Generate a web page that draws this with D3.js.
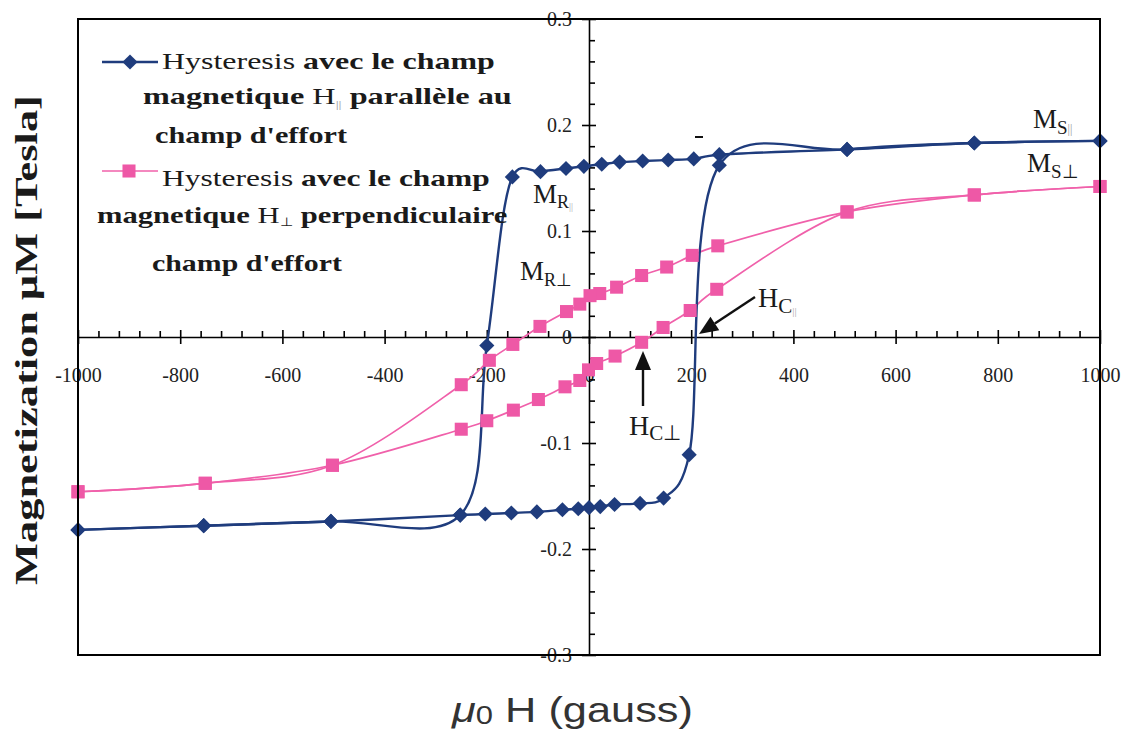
<!DOCTYPE html>
<html lang="fr">
<head>
<meta charset="utf-8"/>
<script src="https://cdn.jsdelivr.net/npm/d3@7"></script>
<title>Hysteresis</title>
<style>
  body { margin: 0; background: #fff; }
  svg { display: block; }
  text { white-space: pre; }
  .tick text { font-family: "Liberation Serif", "Times New Roman", serif; font-size: 20px; fill: #222; }
  .tick line, .domain { stroke: #000; stroke-width: 1.6px; }
</style>
</head>
<body>
<svg id="chart"></svg>
<script>
const width = 1123;
const height = 733;

// axes
const xTicks = [-1000, -800, -600, -400, -200, 0, 200, 400, 600, 800, 1000];
const yTicks = [-0.3, -0.2, -0.1, 0, 0.1, 0.2, 0.3];
const yTickLabels = ["-0.3", "-0.2", "-0.1", "0", "0.1", "0.2", "0.3"];

// H parallele : branche descendante puis montante
const blueDownH = [1000, 754, 505, 255, 205, 155, 105, 60, 25, -10, -45, -95, -150, -200, -252, -505, -754, -1000];
const blueDownM = [0.185, 0.183, 0.177, 0.172, 0.168, 0.167, 0.166, 0.165, 0.163, 0.161, 0.159, 0.156, 0.151, -0.008, -0.168, -0.174, -0.178, -0.182];
const blueUpH = [-1000, -754, -505, -252, -203, -152, -102, -52, -21, 0, 22, 50, 100, 146, 196, 255, 505, 754, 1000];
const blueUpM = [-0.182, -0.178, -0.174, -0.168, -0.167, -0.166, -0.165, -0.163, -0.162, -0.161, -0.160, -0.158, -0.157, -0.152, -0.111, 0.162, 0.177, 0.183, 0.185];

// H perpendiculaire
const pinkDownH = [1000, 754, 505, 252, 202, 152, 103, 54, 21, 2, -18, -44, -96, -149, -195, -250, -502, -751, -1000];
const pinkDownM = [0.142, 0.134, 0.118, 0.086, 0.077, 0.066, 0.058, 0.047, 0.041, 0.039, 0.031, 0.024, 0.010, -0.007, -0.022, -0.045, -0.121, -0.138, -0.146];
const pinkUpH = [-1000, -751, -502, -250, -200, -148, -99, -47, -18, -1, 15, 51, 103, 145, 198, 250, 505, 754, 1000];
const pinkUpM = [-0.146, -0.138, -0.121, -0.087, -0.079, -0.069, -0.059, -0.047, -0.041, -0.031, -0.025, -0.018, -0.005, 0.009, 0.025, 0.045, 0.118, 0.134, 0.142];

const blue = "#1f3c7d";
const pink = "#f060aa";
const serif = "'Liberation Serif', 'Times New Roman', serif";

const svg = d3.select("#chart")
  .attr("width", width)
  .attr("height", height);

const x = d3.scaleLinear().domain([-1000, 1000]).range([78, 1100]);
const y = d3.scaleLinear().domain([-0.3, 0.3]).range([655, 19]);

// axe horizontal (y = 0)
const xAxis = svg.append("g")
  .attr("transform", "translate(0," + y(0) + ")")
  .call(d3.axisBottom(x).tickValues(xTicks).tickSize(7).tickSizeOuter(0).tickFormat(d => String(d)));
xAxis.selectAll(".tick line").attr("y1", -7).attr("y2", 7);
xAxis.selectAll(".tick text").attr("y", 45).attr("dy", null);

const minorX = d3.range(-25, 26).map(i => i * 40).filter(v => v % 200 !== 0);
svg.append("g")
  .attr("transform", "translate(0," + y(0) + ")")
  .call(d3.axisTop(x).tickValues(minorX).tickSize(6).tickFormat(""))
  .select(".domain").remove();

// axe vertical (H = 0)
const yAxis = svg.append("g")
  .attr("transform", "translate(" + x(0) + ",0)")
  .call(d3.axisLeft(y).tickValues(yTicks).tickSize(7).tickSizeOuter(0).tickFormat((d, i) => yTickLabels[i]));
yAxis.selectAll(".tick line").attr("x1", 7);
yAxis.selectAll(".tick text").attr("x", -17);

const minorY = d3.range(-15, 16).filter(i => i % 5 !== 0).map(i => i * 0.02);
svg.append("g")
  .attr("transform", "translate(" + x(0) + ",0)")
  .call(d3.axisRight(y).tickValues(minorY).tickSize(6).tickFormat(""))
  .select(".domain").remove();

// courbes lissées
const line = d3.line()
  .x(d => x(d[0]))
  .y(d => y(d[1]))
  .curve(d3.curveCatmullRom.alpha(0.2));

const zipHM = (h, m) => h.map((v, i) => [v, m[i]]);

const series = [
  {pts: zipHM(pinkDownH, pinkDownM), color: pink, w: 1.7, kind: "square"},
  {pts: zipHM(pinkUpH, pinkUpM), color: pink, w: 1.7, kind: "square"},
  {pts: zipHM(blueDownH, blueDownM), color: blue, w: 2.4, kind: "diamond"},
  {pts: zipHM(blueUpH, blueUpM), color: blue, w: 2.4, kind: "diamond"}
];

const squareSym = d3.symbol(d3.symbolSquare, 170);
const diamondSym = d3.symbol(d3.symbolSquare, 115);

series.forEach(s => {
  svg.append("path")
    .attr("d", line(s.pts))
    .attr("fill", "none")
    .attr("stroke", s.color)
    .attr("stroke-width", s.w);
});

series.forEach(s => {
  svg.append("g")
    .selectAll("path")
    .data(s.pts)
    .enter()
    .append("path")
      .attr("d", s.kind === "square" ? squareSym : diamondSym)
      .attr("transform", d => "translate(" + x(d[0]) + "," + y(d[1]) + ")" + (s.kind === "diamond" ? " rotate(45)" : ""))
      .attr("fill", s.color === pink ? "#ee58a6" : blue);
});

// cadre
svg.append("rect")
  .attr("x", x(-1000)).attr("y", y(0.3))
  .attr("width", x(1000) - x(-1000)).attr("height", y(-0.3) - y(0.3))
  .attr("fill", "none")
  .attr("stroke", "#000")
  .attr("stroke-width", 2);

// texte avec morceaux gras / indices, étiré à une largeur donnée
function richText(px, py, parts, size, targetW, family) {
  const t = svg.append("text")
    .attr("font-family", family || serif)
    .attr("font-size", size)
    .attr("fill", "#1a1a1a");
  parts.forEach(p => {
    t.append("tspan")
      .text(p.t)
      .attr("font-weight", p.b ? "bold" : "normal")
      .attr("font-style", p.i ? "italic" : null)
      .attr("font-size", p.s || null)
      .attr("fill", p.c || null)
      .attr("dy", p.dy || null);
  });
  let sc = 1;
  if (targetW) sc = targetW / t.node().getComputedTextLength();
  t.attr("transform", "translate(" + px + "," + py + ") scale(" + sc + ",1)");
  return t;
}

// légende
const leg = svg.append("g");
leg.append("line").attr("x1", 102).attr("x2", 158).attr("y1", 62).attr("y2", 62)
  .attr("stroke", blue).attr("stroke-width", 2.4);
leg.append("path").attr("d", diamondSym).attr("fill", blue)
  .attr("transform", "translate(130,62) rotate(45)");
leg.append("line").attr("x1", 102).attr("x2", 158).attr("y1", 171).attr("y2", 171)
  .attr("stroke", pink).attr("stroke-width", 1.7);
leg.append("path").attr("d", squareSym).attr("fill", "#ee58a6")
  .attr("transform", "translate(129,171)");

const sub = 11;
richText(162, 69, [{t: "Hysteresis"}, {t: " avec le champ", b: true}], 24, 333);
richText(143, 104, [{t: "magnetique", b: true}, {t: " H"}, {t: "||", s: sub, c: "#999", dy: 4}, {t: " parallèle au", b: true, dy: -4}], 24, 369);
richText(155, 143, [{t: "champ d'effort", b: true}], 24, 192);
richText(162, 186, [{t: "Hysteresis"}, {t: " avec le champ", b: true}], 24, 328);
richText(97, 223, [{t: "magnetique", b: true}, {t: " H"}, {t: "⊥", s: 12, dy: 3}, {t: " perpendiculaire", b: true, dy: -3}], 24, 410);
richText(152, 271, [{t: "champ d'effort", b: true}], 24, 190);

// annotations
richText(533, 203, [{t: "M"}, {t: "R", s: 18, dy: 5}, {t: "||", s: 10, c: "#aaa", dy: 2}], 27);
richText(520, 280, [{t: "M"}, {t: "R⊥", s: 18, dy: 6}], 27);
richText(1033, 128, [{t: "M"}, {t: "S", s: 19, dy: 6}, {t: "||", s: 12, c: "#999", dy: -1}], 27);
richText(1027, 172, [{t: "M"}, {t: "S⊥", s: 19, dy: 6}], 27);
richText(758, 307, [{t: "H"}, {t: "C", s: 21, dy: 6}, {t: "||", s: 11, c: "#aaa", dy: 2}], 28);
richText(629, 435, [{t: "H"}, {t: "C⊥", s: 21, dy: 5}], 28);

// flèches
function arrow(x1, y1, x2, y2) {
  const a = Math.atan2(y2 - y1, x2 - x1);
  const L = 19, W = 8;
  const bx = x2 - L * Math.cos(a), by = y2 - L * Math.sin(a);
  svg.append("line").attr("x1", x1).attr("y1", y1).attr("x2", bx).attr("y2", by)
    .attr("stroke", "#111").attr("stroke-width", 2.4);
  svg.append("path")
    .attr("d", "M" + x2 + "," + y2 +
      "L" + (bx + W * Math.sin(a)) + "," + (by - W * Math.cos(a)) +
      "L" + (bx - W * Math.sin(a)) + "," + (by + W * Math.cos(a)) + "Z")
    .attr("fill", "#111");
}
arrow(755, 297, 699, 334);
arrow(643, 406, 643, 351);

svg.append("line").attr("x1", 695).attr("x2", 703).attr("y1", 137).attr("y2", 137)
  .attr("stroke", "#111").attr("stroke-width", 2);

// titres des axes
const yTitle = svg.append("text")
  .attr("font-family", serif)
  .attr("font-weight", "bold")
  .attr("font-size", 32)
  .attr("text-anchor", "middle")
  .attr("fill", "#1a1a1a")
  .text("Magnetization μM [Tesla]");
const ySc = 490 / yTitle.node().getComputedTextLength();
yTitle.attr("transform", "translate(37,340) rotate(-90) scale(" + ySc + ",1)");

richText(452, 722, [{t: "μ", i: true}, {t: "0", s: 25, dy: 2}, {t: " H (gauss)", dy: -2}], 35, 241,
  "'Liberation Sans', Arial, sans-serif").attr("fill", "#333");
</script>
</body>
</html>
